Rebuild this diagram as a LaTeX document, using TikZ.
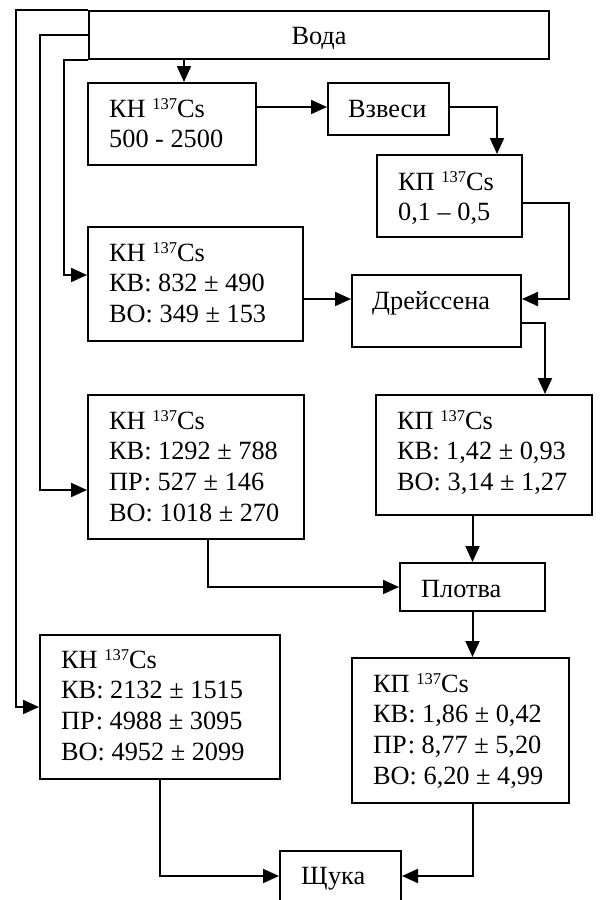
\documentclass[tikz,border=0pt]{standalone}
\usepackage{fontspec}
\setmainfont{Liberation Serif}
\usetikzlibrary{arrows.meta,calc}
\newcommand\isot{\raisebox{8pt}{\fontsize{16.5}{16.5}\selectfont 137}}
\begin{document}
\begin{tikzpicture}[x=1pt,y=-1pt,
  box/.style={draw,line width=2pt,rectangle,inner sep=0pt},
  txt/.style={inner sep=0pt,font=\fontsize{26.3}{30.7}\selectfont},
  arr/.style={line width=2pt,-{Triangle[length=16pt,width=14pt]}}]
\useasboundingbox (0,0) rectangle (600,900);
% boxes
\node[box,minimum width=460pt,minimum height=48pt] (voda) at (319,35) {};
\node[box,minimum width=168pt,minimum height=82pt] (kn1) at (172,124) {};
\node[box,minimum width=121pt,minimum height=52pt] (vzv) at (388.5,109) {};
\node[box,minimum width=145pt,minimum height=82pt] (kp1) at (449.5,196) {};
\node[box,minimum width=215pt,minimum height=114pt] (kn2) at (195.5,284) {};
\node[box,minimum width=169pt,minimum height=72pt] (dre) at (436.5,311) {};
\node[box,minimum width=216pt,minimum height=144pt] (kn3) at (196,467) {};
\node[box,minimum width=216pt,minimum height=120pt] (kp2) at (484,455) {};
\node[box,minimum width=145pt,minimum height=48pt] (plo) at (472.5,587) {};
\node[box,minimum width=240pt,minimum height=144pt] (kn4) at (160,707) {};
\node[box,minimum width=217pt,minimum height=145pt] (kp3) at (460.5,730.5) {};
\node[box,minimum width=121pt,minimum height=50pt] (shu) at (340.5,876) {};
% texts
\node[txt,anchor=base] (tvoda) at ([yshift=-34pt]voda.north) {Вода};
\node[txt,anchor=base west] (tkn1) at ([xshift=22pt,yshift=-35pt]kn1.north west)
  {\begin{tabular}[t]{@{}l@{}}КН \isot Cs\\500 - 2500\end{tabular}};
\node[txt,anchor=base west] (tvzv) at ([xshift=21pt,yshift=-35pt]vzv.north west) {Взвеси};
\node[txt,anchor=base west] (tkp1) at ([xshift=22pt,yshift=-36pt]kp1.north west)
  {\begin{tabular}[t]{@{}l@{}}КП \isot Cs\\0,1 – 0,5\end{tabular}};
\node[txt,anchor=base west] (tkn2) at ([xshift=22pt,yshift=-35pt]kn2.north west)
  {\begin{tabular}[t]{@{}l@{}}КН \isot Cs\\КВ: 832 ± 490\\ВО: 349 ± 153\end{tabular}};
\node[txt,anchor=base west] (tdre) at ([xshift=21pt,yshift=-35pt]dre.north west) {Дрейссена};
\node[txt,anchor=base west] (tkn3) at ([xshift=22pt,yshift=-35pt]kn3.north west)
  {\begin{tabular}[t]{@{}l@{}}КН \isot Cs\\КВ: 1292 ± 788\\ПР: 527 ± 146\\ВО: 1018 ± 270\end{tabular}};
\node[txt,anchor=base west] (tkp2) at ([xshift=22pt,yshift=-35pt]kp2.north west)
  {\begin{tabular}[t]{@{}l@{}}КП \isot Cs\\КВ: 1,42 ± 0,93\\ВО: 3,14 ± 1,27\end{tabular}};
\node[txt,anchor=base west] (tplo) at ([xshift=22pt,yshift=-35pt]plo.north west) {Плотва};
\node[txt,anchor=base west] (tkn4) at ([xshift=22pt,yshift=-34pt]kn4.north west)
  {\begin{tabular}[t]{@{}l@{}}КН \isot Cs\\КВ: 2132 ± 1515\\ПР: 4988 ± 3095\\ВО: 4952 ± 2099\end{tabular}};
\node[txt,anchor=base west] (tkp3) at ([xshift=22pt,yshift=-35pt]kp3.north west)
  {\begin{tabular}[t]{@{}l@{}}КП \isot Cs\\КВ: 1,86 ± 0,42\\ПР: 8,77 ± 5,20\\ВО: 6,20 ± 4,99\end{tabular}};
\node[txt,anchor=base west] (tshu) at ([xshift=22pt,yshift=-34pt]shu.north west) {Щука};
% connectors
\draw[arr] (voda.south -| 184,0) -- (kn1.north -| 184,0);
\draw[arr] (kn1.east |- 0,107) -- (vzv.west |- 0,107);
\draw[arr] (vzv.east |- 0,107) -| (kp1.north -| 497,0);
\draw[arr] (kp1.east |- 0,203) -| (569,299) -- (dre.east |- 0,299);
\draw[arr] (kn2.east |- 0,299) -- (dre.west |- 0,299);
\draw[arr] (dre.east |- 0,323) -| (kp2.north -| 545,0);
\draw[arr] (voda.north west) -| (16,707) -- (kn4.west);
\draw[arr] (voda.west) -| (40,490) -- (kn3.west |- 0,490);
\draw[arr] (voda.south west) -| (64,275) -- (kn2.west |- 0,275);
\draw[arr] (plo.north |- kp2.south) -- (plo.north);
\draw[arr] (kn3.south -| 208,0) |- (plo.west);
\draw[arr] (plo.south) -- (kp3.north -| plo.south);
\draw[arr] (kp3.south -| plo.south) |- (shu.east);
\draw[arr] (kn4.south) |- (shu.west);
\end{tikzpicture}
\end{document}
